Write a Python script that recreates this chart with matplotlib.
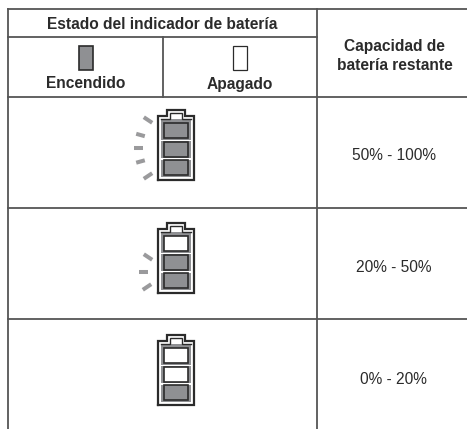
"""Tabla del indicador de bateria"""

import matplotlib
matplotlib.use("Agg")
import matplotlib.pyplot as plt
from matplotlib.patches import Rectangle

plt.rcParams['font.family'] = ['Liberation Sans', 'DejaVu Sans']

# Contents
header = "Estado del indicador de batería"
state_on = "Encendido"
state_off = "Apagado"
capacity_header = ["Capacidad de", "batería restante"]
capacity_labels = ["50% - 100%", "20% - 50%", "0% - 20%"]
cells_lit = [[1, 1, 1], [0, 1, 1], [0, 0, 1]]      # top to bottom

# Colours
DARK = "#2b2b2b"
LINE = "#555555"
GREY = "#8f9093"
TICK = "#9a9a9c"

# Layout in image pixels
W, H = 467, 429
left, mid, split = 8, 317, 163
top, head_y, rows_y = 9, 37, [96.5, 208, 319]
FS = 11.2

fig = plt.figure(figsize=(W / 100, H / 100), dpi=100)
ax = fig.add_axes([0, 0, 1, 1])
ax.set_xlim(0, W)
ax.set_ylim(H, 0)
ax.axis("off")

# Table lines
lw = 1.3
ax.plot([left, W], [top, top], color=LINE, lw=lw)
ax.plot([left, mid], [head_y, head_y], color=LINE, lw=lw)
for y in rows_y:
    ax.plot([left, W], [y, y], color=LINE, lw=lw)
ax.plot([left, left], [top, H], color=LINE, lw=lw)
ax.plot([mid, mid], [top, H], color=LINE, lw=lw)
ax.plot([split, split], [head_y, rows_y[0]], color=LINE, lw=lw)

# Table text
bold = dict(ha="center", va="center", fontsize=FS, fontweight="bold", color=DARK)
ax.text(162.5, 24.5, header, **bold)
ax.text(85.5, 84, state_on, **bold)
ax.text(239.5, 84, state_off, **bold)
ax.text(394.5, 46, capacity_header[0], **bold)
ax.text(394.5, 65, capacity_header[1], **bold)

# Legend swatches
ax.add_patch(Rectangle((78.5, 46), 14, 23.5, fc=GREY, ec=DARK, lw=1.2))
ax.add_patch(Rectangle((233, 46), 14, 23.5, fc="white", ec=DARK, lw=0.9))


def draw_battery(dy, lit, ticks):
    # outline with nub on top
    xs = [157.5, 157.5, 166.5, 166.5, 185, 185, 193.5, 193.5, 157.5]
    ys = [180, 116, 116, 109.5, 109.5, 116, 116, 180, 180]
    ax.plot(xs, [y + dy for y in ys], color=DARK, lw=1.6, solid_joinstyle="miter")
    # inner line of the nub
    xs = [160.5, 169.5, 169.5, 182, 182, 190.5]
    ys = [119, 119, 113, 113, 119, 119]
    ax.plot(xs, [y + dy for y in ys], color=DARK, lw=1.0, solid_joinstyle="miter")
    # grey band around the cells
    ax.add_patch(Rectangle((160.5, 119 + dy), 30, 58, fc=GREY, ec="none"))
    # three cells, white gaps between them
    for y0 in [139.7, 158]:
        ax.add_patch(Rectangle((160.5, y0 + dy), 30, 1.6, fc="white", ec="none", zorder=3))
    for y0, on in zip([122.5, 141.5, 159.8], lit):
        ax.add_patch(Rectangle((163.5, y0 + dy), 24, 15.5, fc=GREY if on else "white",
                               ec=DARK, lw=1.2, zorder=4))
    # flash marks
    for cx, cy, sx, sy in ticks:
        ax.plot([cx - sx, cx + sx], [cy - sy, cy + sy], color=TICK, lw=2.9, solid_capstyle="butt")


# flash marks per row as centre x, centre y, half run, half rise
ticks_full = [(148, 120, 4.2, 2.8), (140.5, 135, 4.3, 1.2), (138.5, 148, 4.3, 0),
              (140.5, 161.5, 4.3, -1.2), (148, 176, 4.2, -2.8)]
ticks_mid = [(148, 257, 4.2, 2.8), (143.5, 272, 4.3, 0), (147, 287, 4.2, -2.8)]
ticks_none = []
row_ticks = [ticks_full, ticks_mid, ticks_none]

for i, offset in enumerate([0, 113, 225]):
    draw_battery(offset, cells_lit[i], row_ticks[i])

# Capacity labels
for label, y in zip(capacity_labels, [155, 267, 380]):
    ax.text(393.5, y, label, ha="center", va="center", fontsize=FS, color=DARK)

fig.savefig("out.png", dpi=100)
